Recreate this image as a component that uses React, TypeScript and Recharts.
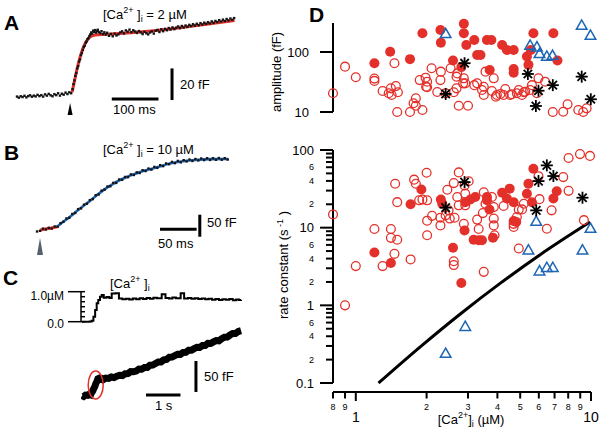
import React from "react";
import { ComposedChart, Line, Scatter, XAxis, YAxis, ReferenceLine, ReferenceDot } from "recharts";

const FONT = "'Liberation Sans', Arial, Helvetica, sans-serif";
const RED = "#e3302a";
const BLUE = "#1d66b5";

// ---- A: [Ca2+]i = 2 µM, time (ms) vs capacitance (fF)
const traceA: number[][] = [
  [-118, 0.3], [-114, -0.4], [-110, 0.5], [-106, 0.0], [-102, 0.8], [-98, -0.2], [-94, 0.6], [-90, 1.1],
  [-86, 0.2], [-82, 0.9], [-78, 0.4], [-74, 1.4], [-70, 0.6], [-66, 1.2], [-62, 0.3], [-58, 1.7],
  [-54, 0.9], [-50, 2.0], [-46, 1.1], [-42, 0.5], [-38, 1.8], [-34, 1.2], [-30, 2.4], [-26, 0.9],
  [-22, 2.1], [-18, 1.5], [-14, 2.8], [-10, 1.9], [-6, 3.0], [-2, 2.4],
  [1, 5.0], [3, 8.2], [5, 10.5], [7, 13.4], [9, 15.2], [11, 18.1], [13, 19.6], [15, 22.4], [17, 23.8],
  [19, 26.5], [21, 27.9], [23, 29.8], [25, 31.6], [27, 32.4], [29, 34.3], [31, 35.1], [33, 36.6],
  [35, 37.2], [37, 38.5], [39, 39.6], [41, 40.8], [43, 40.1], [45, 41.9], [47, 41.2], [49, 42.3],
  [51, 40.7], [53, 41.8], [55, 42.5], [57, 41.1], [60, 40.4], [63, 41.6], [66, 39.8], [69, 40.9],
  [72, 39.5], [75, 40.6], [79, 38.7], [83, 39.9], [87, 38.4], [91, 40.1], [95, 38.9], [99, 39.6],
  [103, 40.8], [107, 41.5], [111, 40.2], [115, 42.1], [119, 41.3], [123, 42.6], [127, 41.0], [131, 42.2],
  [135, 41.4], [139, 40.5], [143, 41.7], [147, 40.9], [151, 39.8], [155, 41.2], [159, 40.3], [163, 39.6],
  [167, 40.8], [171, 41.5], [175, 40.1], [179, 41.9], [183, 42.4], [187, 41.1], [191, 42.8], [195, 41.6],
  [199, 43.1], [203, 42.2], [207, 43.6], [211, 42.7], [215, 44.0], [219, 42.9], [223, 43.8], [227, 44.6],
  [231, 43.5], [235, 44.9], [239, 43.9], [243, 45.2], [247, 44.3], [251, 45.6], [255, 44.8], [259, 46.0],
  [263, 45.1], [267, 46.3], [271, 45.4], [275, 46.7], [279, 45.8], [283, 47.0], [287, 46.2], [291, 47.3],
  [295, 46.5], [299, 47.8], [303, 46.9], [307, 48.1], [311, 47.4], [315, 48.6], [319, 47.7], [323, 48.9],
  [327, 48.0], [331, 49.3], [335, 48.4], [339, 49.6], [343, 48.8], [347, 49.9],
];
const fitA: number[][] = [
  [0, 3], [5, 10], [10, 17], [15, 23], [20, 28], [25, 32], [30, 35], [35, 37], [40, 38.3], [50, 39.2],
  [70, 39.6], [100, 40.1], [150, 41.2], [200, 42.7], [250, 44.6], [300, 46.5], [348, 48.3],
];

// ---- B: [Ca2+]i = 10 µM
const traceB: number[][] = [
  [-4, 0.5], [0, 2.0], [4, 6.9], [8, 5.0], [12, 8.9], [16, 7.2], [20, 11.8], [24, 11.0], [28, 19.5],
  [32, 22.6], [36, 30.1], [40, 31.8], [44, 40.2], [48, 42.5], [52, 51.3], [56, 53.1], [60, 61.4],
  [64, 63.6], [68, 71.8], [72, 74.1], [76, 82.9], [80, 84.6], [84, 93.2], [88, 95.5], [92, 102.7],
  [96, 103.4], [100, 111.0], [104, 110.8], [108, 118.6], [112, 117.9], [116, 124.4], [120, 124.0],
  [124, 130.2], [128, 128.9], [132, 134.8], [136, 133.4], [140, 139.6], [144, 137.8], [148, 143.5],
  [152, 141.2], [156, 147.3], [160, 145.1], [164, 151.2], [168, 149.0], [172, 155.1], [176, 153.4],
  [180, 158.6], [184, 155.8], [188, 160.9], [192, 157.6], [196, 162.5], [200, 159.7], [204, 164.0],
  [208, 160.8], [212, 165.2], [216, 161.9], [220, 166.3], [224, 162.7], [228, 166.9], [232, 163.1],
  [236, 167.0], [240, 163.4], [244, 167.4], [248, 163.6], [252, 167.1], [256, 164.0],
];
const redB: number[][] = [[0, 3.5], [7, 6], [14, 8], [19, 9.5], [23, 11.4]];
const fitB: number[][] = [
  [23, 11.4], [30, 20.5], [41, 34], [52, 49.3], [64, 64.5], [75, 79.5], [86, 94], [97, 106],
  [109, 117.5], [120, 125.5], [132, 132.7], [143, 139], [155, 144.2], [165, 149], [177, 155],
  [188, 158.4], [200, 161.4], [212, 163], [223, 164.4], [235, 164.9], [257, 165.2],
];

// ---- C: slow ramp, [Ca2+]i (µM) and capacitance (fF) vs time (s)
const caC: number[][] = [
  [0.03, 0], [0.15, 0], [0.25, 0.01], [0.31, 0.04], [0.36, 0.2], [0.41, 0.47], [0.455, 0.74], [0.5, 0.87],
  [0.55, 1.0], [0.6, 1.07], [0.66, 0.96], [0.74, 0.99], [0.82, 0.95], [0.89, 1.13], [1.0, 1.14], [1.1, 0.93],
  [1.2, 0.9], [1.3, 0.92], [1.4, 0.89], [1.5, 0.93], [1.6, 0.9], [1.7, 0.94], [1.8, 0.91], [1.9, 0.95],
  [2.0, 0.92], [2.1, 0.96], [2.2, 0.94], [2.34, 1.1], [2.45, 0.95], [2.55, 0.93], [2.65, 0.97], [2.75, 0.94],
  [2.89, 1.14], [2.99, 0.93], [3.1, 0.95], [3.2, 0.92], [3.3, 0.94], [3.4, 0.91], [3.5, 0.93], [3.6, 0.9],
  [3.7, 0.92], [3.8, 0.88], [3.9, 0.91], [4.0, 0.87], [4.1, 0.9], [4.2, 0.88], [4.3, 0.91], [4.4, 0.86],
  [4.5, 0.89], [4.58, 0.87], [4.64, 0.88],
];
const capC: number[][] = [
  [0.03, 0.6], [0.08, -0.8], [0.13, 1.4], [0.19, 0.9], [0.24, 2.8], [0.28, 1.9], [0.31, 5.8], [0.34, 8.2],
  [0.37, 12.0], [0.4, 15.0], [0.43, 20.1], [0.46, 23.4], [0.49, 27.8], [0.52, 28.6], [0.56, 26.9], [0.6, 27.8],
  [0.64, 26.1], [0.72, 28.9], [0.8, 28.3], [0.88, 30.6], [0.96, 29.6], [1.04, 31.9], [1.12, 33.4], [1.2, 32.9],
  [1.28, 35.8], [1.36, 36.1], [1.44, 39.4], [1.52, 39.1], [1.6, 40.2], [1.68, 43.5], [1.76, 43.1], [1.84, 45.9],
  [1.92, 46.0], [2.0, 49.6], [2.08, 49.8], [2.16, 52.4], [2.24, 54.9], [2.32, 55.0], [2.4, 58.3], [2.48, 59.1],
  [2.56, 62.7], [2.64, 62.8], [2.72, 65.1], [2.8, 67.4], [2.88, 67.2], [2.96, 70.3], [3.04, 70.6], [3.12, 73.8],
  [3.2, 73.7], [3.28, 76.4], [3.36, 78.5], [3.44, 78.2], [3.52, 81.3], [3.6, 81.4], [3.68, 84.9], [3.76, 84.6],
  [3.84, 87.2], [3.92, 89.5], [4.0, 89.0], [4.08, 92.4], [4.16, 94.8], [4.24, 95.1], [4.32, 98.3], [4.4, 100.9],
  [4.48, 100.8], [4.56, 104.0], [4.64, 105.3],
];
const caTicksC = [0, 0.2, 0.4, 0.6, 0.8, 1.0, 1.2];

// ---- D: amplitude (fF) and rate constant (1/s) vs [Ca2+]i (µM)
const ampOpen: number[][] = [
  [0.8, 20.5], [0.9, 57], [1.0, 38], [1.2, 36], [1.2, 33], [1.46, 65], [1.3, 22.4], [1.41, 24.8], [1.48, 27],
  [1.42, 19.2], [1.51, 21.3], [1.38, 20.5], [1.8, 16.9], [1.76, 14], [1.8, 12.7], [1.5, 10], [1.7, 10],
  [1.92, 10.8], [1.87, 34], [1.98, 37.3], [2.01, 32], [1.99, 26.4], [2.01, 25.8], [2.1, 53.5], [2.3, 47],
  [2.29, 34], [2.22, 21.5], [2.41, 20.5], [2.53, 53.5], [2.7, 44], [2.68, 38.8], [2.88, 36.4], [2.86, 30],
  [2.92, 30], [2.68, 24.8], [2.61, 21.3], [2.74, 12.7], [3.0, 12.7], [3.19, 28], [3.28, 30], [3.44, 23.3],
  [3.5, 26.4], [3.56, 47], [3.86, 36.4], [3.5, 19.2], [3.79, 22.4], [3.94, 18], [3.98, 19.2], [4.12, 20],
  [4.25, 19.2], [4.32, 24.2], [4.53, 19.2], [4.61, 19.8], [4.84, 20.5], [5.09, 19.2], [4.93, 23.3],
  [5.18, 21.3], [5.25, 21.8], [5.51, 23.3], [5.61, 28], [5.89, 20.5], [5.98, 36.4], [6.38, 32], [6.88, 10],
  [7.62, 10.1], [7.95, 13.4], [8.83, 10.8], [9.27, 10], [9.58, 11.5],
];
const ampFilled: number[][] = [
  [1.2, 65], [1.4, 101], [1.7, 76], [1.92, 205], [2.29, 233], [2.3, 143], [2.59, 72], [2.81, 56], [2.88, 295],
  [2.88, 205], [2.95, 131], [3.19, 158], [3.28, 89], [3.39, 89], [3.61, 158], [3.71, 50], [3.77, 158],
  [4.19, 131], [4.39, 108], [4.69, 108], [4.69, 52], [4.69, 45], [5.34, 84], [5.42, 61], [5.55, 108],
  [5.69, 205], [6.92, 205], [7.2, 72],
];
const ampTri: number[][] = [
  [2.41, 205], [5.51, 131], [5.89, 123], [6.04, 95], [6.49, 86], [6.86, 89], [9.13, 282], [9.95, 192],
];
const ampStar: number[][] = [
  [2.9, 65], [2.41, 20], [5.39, 43], [5.98, 22.6], [5.83, 12.6], [6.88, 28], [9.13, 38.8], [9.98, 16.3],
];

const rateOpen: number[][] = [
  [0.8, 14.8], [0.9, 1.0], [1.0, 3.2], [1.2, 9.6], [1.3, 3.2], [1.41, 9.6], [1.41, 7.4], [1.5, 7.0], [1.46, 4.6],
  [1.71, 3.9], [1.47, 36.8], [1.5, 21.3], [1.77, 41.5], [1.8, 36.8], [1.86, 22.5], [1.92, 23], [2.01, 22.5],
  [2.0, 51], [2.01, 12.3], [2.11, 14.2], [2.01, 8], [2.29, 13.4], [2.29, 10.7], [2.41, 14.4], [2.51, 13.1],
  [2.63, 13.4], [2.45, 30.8], [2.48, 16.7], [2.61, 37.5], [2.74, 51.5], [2.7, 24.8], [2.74, 19.4], [2.9, 35],
  [2.92, 27.4], [2.92, 19.4], [3.02, 39.6], [2.88, 11.2], [3.28, 12.7], [3.33, 9.6], [3.86, 13.1], [3.86, 10.7],
  [2.61, 3.7], [2.61, 3.3], [3.5, 2.7], [3.5, 28.6], [3.56, 20.3], [3.79, 24.8], [3.86, 18.4], [3.47, 15.4],
  [3.89, 8], [4.25, 19], [4.69, 11.2], [4.84, 13.7], [4.93, 17.1], [5.09, 17.2], [5.18, 20.3], [4.69, 10.2],
  [4.93, 5.4], [5.98, 46], [6.04, 23.3], [6.49, 9.7], [6.8, 16.7], [7.62, 44.8], [8.03, 79], [8.98, 88.5],
  [9.9, 84], [8.03, 29.8], [9.33, 12.5],
];
const rateFilled: number[][] = [
  [1.2, 4.8], [1.41, 3.5], [1.71, 20], [1.9, 31], [2.3, 23.1], [2.33, 20.4], [2.59, 5.5], [2.9, 9.2],
  [2.92, 21.3], [3.07, 23], [3.22, 24.8], [3.17, 7.0], [3.33, 6.9], [3.44, 6.9], [3.61, 24.8], [3.61, 22.5],
  [3.7, 17.1], [3.83, 7.4], [4.19, 28.2], [4.51, 31.8], [4.39, 23.7], [4.69, 21.3], [4.69, 12.2], [4.81, 11.8],
  [5.69, 57.4], [5.42, 36.8], [5.34, 27.4], [5.61, 21.3], [6.92, 23.7], [7.15, 29.5], [2.81, 1.94],
];
const rateTri: number[][] = [
  [5.85, 12.2], [5.42, 5.2], [6.04, 2.8], [6.49, 3.1], [6.88, 3.1], [9.2, 5.2], [9.95, 9.9], [2.92, 0.54], [2.41, 0.243],
];
const rateStar: number[][] = [
  [2.9, 38.6], [2.41, 18.1], [6.49, 63.4], [5.98, 39.8], [6.92, 46.2], [5.85, 16.7], [9.2, 24.3],
];
const rateFit: number[][] = [
  [1.25, 0.1], [1.89, 0.296], [2.79, 0.78], [4.12, 1.93], [6.08, 4.49], [9.9, 11.8],
];

const caTicksD = [0.8, 0.9, 1, 2, 3, 4, 5, 6, 7, 8, 9, 10];
const ampTicks = [10, 100];
const rateTicks = [
  0.1, 0.2, 0.3, 0.4, 0.5, 0.6, 0.7, 0.8, 0.9, 1, 2, 3, 4, 5, 6, 7, 8, 9,
  10, 20, 30, 40, 50, 60, 70, 80, 90, 100,
];
const RATE_FLOOR = 0.0766; // puts the x axis a few px below the 0.1 tick

const pts = (a: number[][]) => a.map(([x, y]) => ({ x, y }));

// markers
const traceDot = (p: any) => <rect x={p.cx - 1.2} y={p.cy - 1.2} width={2.4} height={2.4} fill="#141414" />;
const openCircle = (p: any) => <circle cx={p.cx} cy={p.cy} r={4.4} fill="none" stroke={RED} strokeWidth={1.3} />;
const filledCircle = (p: any) => <circle cx={p.cx} cy={p.cy} r={5} fill={RED} />;
const triangle = (p: any) => (
  <polygon
    points={`${p.cx},${p.cy - 5} ${p.cx - 5.3},${p.cy + 4.3} ${p.cx + 5.3},${p.cy + 4.3}`}
    fill="none" stroke={BLUE} strokeWidth={1.5}
  />
);
const star = (p: any) => {
  const r = 6, d = 4.2;
  return (
    <g stroke="#000" strokeWidth={1.8}>
      <line x1={p.cx - r} y1={p.cy} x2={p.cx + r} y2={p.cy} />
      <line x1={p.cx} y1={p.cy - r} x2={p.cx} y2={p.cy + r} />
      <line x1={p.cx - d} y1={p.cy - d} x2={p.cx + d} y2={p.cy + d} />
      <line x1={p.cx - d} y1={p.cy + d} x2={p.cx + d} y2={p.cy - d} />
    </g>
  );
};
const arrowHead = (color: string, w: number, h: number) => (p: any) => (
  <polygon points={`${p.cx},${p.cy} ${p.cx - w / 2},${p.cy + h} ${p.cx + w / 2},${p.cy + h}`} fill={color} />
);
const ellipse = (p: any) => <ellipse cx={p.cx} cy={p.cy} rx={7.5} ry={14} fill="none" stroke={RED} strokeWidth={1.5} />;

// ticks
const AmpTick = (p: any) => (
  <g>
    <line x1={p.x - 13} x2={p.x} y1={p.y} y2={p.y} stroke="#000" strokeWidth={2} />
    <text x={p.x - 24} y={p.y + 4.7} textAnchor="end" fontSize={13} fontFamily={FONT}>{p.payload.value}</text>
  </g>
);
const RateTick = (p: any) => {
  const v = p.payload.value;
  const lead = Math.round(v / 10 ** Math.floor(Math.log10(v) + 1e-9));
  const major = lead === 1;
  const label = major ? String(v) : lead === 2 || lead === 4 || lead === 6 ? String(lead) : "";
  return (
    <g>
      <line x1={p.x - (major ? 13 : 7)} x2={p.x} y1={p.y} y2={p.y} stroke="#000" strokeWidth={2} />
      {label && (
        <text x={p.x - 19} y={p.y + (major ? 4.7 : 3.2)} textAnchor="end" fontSize={major ? 13 : 9} fontFamily={FONT}>
          {label}
        </text>
      )}
    </g>
  );
};
const CaAxisTick = (p: any) => {
  const v = p.payload.value;
  const major = v === 1 || v === 10;
  const label = major ? String(v) : String(v < 1 ? Math.round(v * 10) : v);
  return (
    <g>
      <line x1={p.x} x2={p.x} y1={p.y} y2={p.y + (major ? 9 : 6.5)} stroke="#000" strokeWidth={2} />
      <text x={p.x} y={p.y + (major ? 29.5 : 17.5)} textAnchor="middle" fontSize={major ? 14 : 9} fontFamily={FONT}>
        {label}
      </text>
    </g>
  );
};
const CaLevelTick = (p: any) => {
  const v = p.payload.value;
  const long = v === 0 || v === 1.2;
  return (
    <g stroke="#000" strokeWidth={1.5}>
      <line x1={p.x} x2={p.x + 4} y1={p.y} y2={p.y} />
      {long && <line x1={p.x - 13} x2={p.x} y1={p.y} y2={p.y} />}
    </g>
  );
};

const bar = { stroke: "#000", strokeWidth: 3, ifOverflow: "visible" as const };
const noMargin = { top: 0, right: 0, bottom: 0, left: 0 };

function PanelA() {
  return (
    <div style={{ position: "absolute", left: 10, top: 10 }}>
      <ComposedChart width={240} height={110} margin={noMargin}>
        <XAxis type="number" dataKey="x" domain={[-133, 381]} hide />
        <YAxis type="number" dataKey="y" domain={[-14.5, 55]} hide />
        <Line data={pts(fitA)} dataKey="y" type="monotone" stroke={RED} strokeWidth={3} dot={false} isAnimationActive={false} />
        <Scatter data={pts(traceA)} shape={traceDot} isAnimationActive={false} />
        <ReferenceLine segment={[{ x: 85, y: -1.3 }, { x: 185, y: -1.3 }]} {...bar} />
        <ReferenceLine segment={[{ x: 214, y: -1.9 }, { x: 214, y: 18.1 }]} {...bar} />
        <ReferenceDot x={-4.3} y={-3.8} shape={arrowHead("#000", 5, 12)} />
      </ComposedChart>
    </div>
  );
}

function PanelB() {
  return (
    <div style={{ position: "absolute", left: 20, top: 140 }}>
      <ComposedChart width={230} height={120} margin={noMargin}>
        <XAxis type="number" dataKey="x" domain={[-27.3, 286.5]} hide />
        <YAxis type="number" dataKey="y" domain={[-64.3, 208.4]} hide />
        <Scatter data={pts(traceB)} shape={traceDot} isAnimationActive={false} />
        <Line data={pts(redB)} dataKey="y" type="monotone" stroke={RED} strokeWidth={3} dot={false} isAnimationActive={false} />
        <Line data={pts(fitB)} dataKey="y" type="monotone" stroke={BLUE} strokeWidth={2.6} dot={false} isAnimationActive={false} />
        <ReferenceLine segment={[{ x: 163.7, y: 5.5 }, { x: 213.7, y: 5.5 }]} {...bar} />
        <ReferenceLine segment={[{ x: 218, y: -11.4 }, { x: 218, y: 38.6 }]} {...bar} />
        <ReferenceDot x={0} y={-14.3} shape={arrowHead("#56606a", 6, 17)} />
      </ComposedChart>
    </div>
  );
}

function PanelC() {
  return (
    <>
      <div style={{ position: "absolute", left: 40, top: 285 }}>
        <ComposedChart width={210} height={40} margin={noMargin}>
          <XAxis type="number" dataKey="x" domain={[0, 4.9]} hide />
          <YAxis
            type="number" dataKey="y" domain={[-0.132, 1.468]} ticks={caTicksC} interval={0} width={41}
            axisLine={false} tickLine={false} tickSize={0} tickMargin={0} tick={(p: any) => <CaLevelTick {...p} />}
          />
          <ReferenceLine segment={[{ x: 0, y: 0 }, { x: 0, y: 1.2 }]} stroke="#000" strokeWidth={1.5} ifOverflow="visible" />
          <Line data={pts(caC)} dataKey="y" type="stepAfter" stroke="#000" strokeWidth={2} dot={false} isAnimationActive={false} />
        </ComposedChart>
      </div>
      <div style={{ position: "absolute", left: 81, top: 320 }}>
        <ComposedChart width={169} height={90} margin={noMargin}>
          <XAxis type="number" dataKey="x" domain={[0, 4.9]} hide />
          <YAxis type="number" dataKey="y" domain={[-22.6, 122.6]} hide />
          <Line data={pts(capC)} dataKey="y" type="linear" stroke="#000" strokeWidth={7} dot={false} isAnimationActive={false} />
          <ReferenceLine segment={[{ x: 1.884, y: 1.6 }, { x: 2.884, y: 1.6 }]} {...bar} />
          <ReferenceLine segment={[{ x: 3.333, y: 6.5 }, { x: 3.333, y: 56.5 }]} {...bar} />
          <ReferenceDot x={0.426} y={17.7} shape={ellipse} />
        </ComposedChart>
      </div>
    </>
  );
}

function PanelDTop() {
  return (
    <div style={{ position: "absolute", left: 260, top: 0 }}>
      <ComposedChart width={339} height={130} margin={{ top: 23, right: 8, bottom: 18, left: 0 }}>
        <XAxis type="number" dataKey="x" scale="log" domain={[0.8, 10]} hide />
        <YAxis
          type="number" dataKey="y" scale="log" domain={[10, 304]} ticks={ampTicks} interval={0} width={73}
          axisLine={{ stroke: "#000", strokeWidth: 2 }} tickLine={false} tickSize={0} tickMargin={0}
          tick={(p: any) => <AmpTick {...p} />}
        />
        <Scatter data={pts(ampOpen)} shape={openCircle} isAnimationActive={false} />
        <Scatter data={pts(ampFilled)} shape={filledCircle} isAnimationActive={false} />
        <Scatter data={pts(ampTri)} shape={triangle} isAnimationActive={false} />
        <Scatter data={pts(ampStar)} shape={star} isAnimationActive={false} />
      </ComposedChart>
    </div>
  );
}

function PanelDBottom() {
  return (
    <div style={{ position: "absolute", left: 260, top: 140 }}>
      <ComposedChart width={339} height={292} margin={{ top: 10, right: 8, bottom: 0, left: 0 }}>
        <XAxis
          type="number" dataKey="x" scale="log" domain={[0.8, 10]} ticks={caTicksD} interval={0} height={40}
          axisLine={{ stroke: "#000", strokeWidth: 2 }} tickLine={false} tickSize={0} tickMargin={0}
          tick={(p: any) => <CaAxisTick {...p} />}
        />
        <YAxis
          type="number" dataKey="y" scale="log" domain={[RATE_FLOOR, 100]} ticks={rateTicks} interval={0} width={73}
          axisLine={false} tickLine={false} tickSize={0} tickMargin={0} tick={(p: any) => <RateTick {...p} />}
        />
        <ReferenceLine segment={[{ x: 0.8, y: 0.1 }, { x: 0.8, y: 100 }]} stroke="#000" strokeWidth={2} ifOverflow="visible" />
        <Scatter data={pts(rateOpen)} shape={openCircle} isAnimationActive={false} />
        <Scatter data={pts(rateFilled)} shape={filledCircle} isAnimationActive={false} />
        <Scatter data={pts(rateTri)} shape={triangle} isAnimationActive={false} />
        <Scatter data={pts(rateStar)} shape={star} isAnimationActive={false} />
        <Line data={pts(rateFit)} dataKey="y" type="monotone" stroke="#000" strokeWidth={3} dot={false} isAnimationActive={false} />
      </ComposedChart>
    </div>
  );
}

const CaLabel = ({ x, y, tail }: { x: number; y: number; tail: string }) => (
  <text x={x} y={y} fontSize={13}>
    [Ca<tspan dy={-6} fontSize={9}>2+</tspan>
    <tspan dy={6}> ]</tspan>
    <tspan dy={3} fontSize={9}>i</tspan>
    <tspan dy={-3}>{tail}</tspan>
  </text>
);

function Labels() {
  return (
    <svg width={599} height={432} fontFamily={FONT} style={{ position: "absolute", left: 0, top: 0, pointerEvents: "none" }}>
      <g fontWeight="bold" fontSize={21}>
        <text x={4} y={30}>A</text>
        <text x={4} y={160}>B</text>
        <text x={3} y={285}>C</text>
        <text x={309} y={22}>D</text>
      </g>
      <CaLabel x={103} y={18.5} tail=" = 2 µM" />
      <CaLabel x={103} y={153.5} tail=" = 10 µM" />
      <CaLabel x={110} y={288} tail="" />
      <g fontSize={13}>
        <text x={180} y={89.4}>20 fF</text>
        <text x={113} y={114}>100 ms</text>
        <text x={207} y={227}>50 fF</text>
        <text x={158} y={247.5}>50 ms</text>
        <text x={204} y={381}>50 fF</text>
        <text x={155} y={410}>1 s</text>
      </g>
      <g fontSize={12} textAnchor="end">
        <text x={64} y={300}>1.0µM</text>
        <text x={64} y={327.5}>0.0</text>
      </g>
      <text transform="translate(281,72) rotate(-90)" textAnchor="middle" fontSize={13}>amplitude (fF)</text>
      <text transform="translate(288,265) rotate(-90)" textAnchor="middle" fontSize={13}>
        rate constant (s<tspan dy={-5} fontSize={9}> -1</tspan>
        <tspan dy={5}> )</tspan>
      </text>
      <text x={471} y={424} textAnchor="middle" fontSize={13}>
        [Ca<tspan dy={-6} fontSize={9}>2+</tspan>
        <tspan dy={6}>]</tspan>
        <tspan dy={3} fontSize={9}>i</tspan>
        <tspan dy={-3}> (µM)</tspan>
      </text>
    </svg>
  );
}

export default function App() {
  return (
    <div style={{ position: "absolute", left: 0, top: 0, width: 599, height: 432, background: "#fff", fontFamily: FONT }}>
      <PanelA />
      <PanelB />
      <PanelC />
      <PanelDTop />
      <PanelDBottom />
      <Labels />
    </div>
  );
}
